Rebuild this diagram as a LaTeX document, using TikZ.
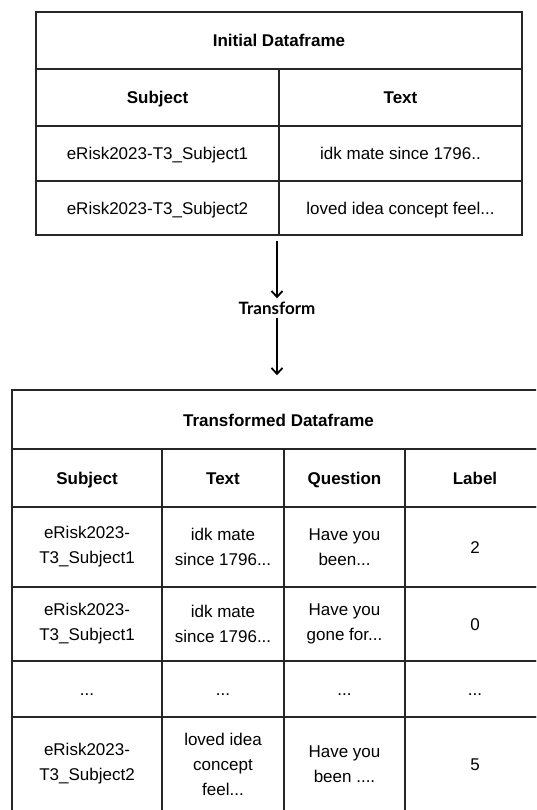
\documentclass[tikz,border=0pt]{standalone}
\usepackage{fontspec}
\setmainfont{Liberation Sans}
\newfontfamily\latofont{Lato}
\usetikzlibrary{arrows.meta}
\tikzset{
	diagram/.style={x=1pt, y=-1pt, font=\fontsize{17}{25}\selectfont,
	                >={Straight Barb[length=6pt,width=11pt,line width=1.8pt]}},
	multicell/.style={draw=black!85, line width=1.5pt, align=center, inner sep=0pt},
	cell/.style={multicell, text height=14.5pt, text depth=1.5pt},
	headcell/.style={cell, font=\fontsize{17}{25}\selectfont\bfseries},
	titlecell/.style={cell, font=\fontsize{17}{25}\selectfont\bfseries},
	flow/.style={->, line width=1.7pt, black},
	lbl/.style={font=\latofont\fontsize{17}{20}\selectfont\bfseries, inner sep=0pt},
}

\begin{document}
\begin{tikzpicture}[diagram]
\useasboundingbox (0,0) rectangle (536,810);

% ---------- initial dataframe ----------
\node[titlecell, minimum width=486pt, minimum height=57pt] (initial) at (279,40.5) {Initial Dataframe};

\node[headcell, minimum width=243pt, minimum height=57pt] (ihsubject) at (157.5,97.5) {Subject};
\node[headcell, minimum width=243pt, minimum height=57pt] (ihtext) at (400.5,97.5) {Text};

\node[cell, minimum width=243pt, minimum height=55pt] (isubj1) at (157.5,153.5) {eRisk2023-T3\_Subject1};
\node[cell, minimum width=243pt, minimum height=55pt] (itext1) at (400.5,153.5) {idk mate since 1796..};

\node[cell, minimum width=243pt, minimum height=54pt] (isubj2) at (157.5,208) {eRisk2023-T3\_Subject2};
\node[cell, minimum width=243pt, minimum height=54pt] (itext2) at (400.5,208) {loved idea concept feel...};

% ---------- transform ----------
\node[lbl, minimum height=19pt] (transform) at (277,308) {Transform};

% ---------- transformed dataframe ----------
\begin{scope}
\clip (0,0) rectangle (536,810);
\node[titlecell, minimum width=533pt, minimum height=59pt] (transformed) at (278.5,419.5) {Transformed Dataframe};

\node[headcell, minimum width=150pt, minimum height=58pt] (hsubject) at (87,478) {Subject};
\node[headcell, minimum width=122pt, minimum height=58pt] (htext) at (223,478) {Text};
\node[headcell, minimum width=121pt, minimum height=58pt] (hquestion) at (344.5,478) {Question};
\node[headcell, minimum width=140pt, minimum height=58pt] (hlabel) at (475,478) {Label};

\node[multicell, minimum width=150pt, minimum height=80pt] (subj1) at (87,547) {eRisk2023-\\T3\_Subject1};
\node[multicell, minimum width=122pt, minimum height=80pt] (text1) at (223,547) {idk mate\\since 1796...};
\node[multicell, minimum width=121pt, minimum height=80pt] (quest1) at (344.5,547) {Have you\\been...};
\node[cell, minimum width=140pt, minimum height=80pt] (label1) at (475,547) {2};

\node[multicell, minimum width=150pt, minimum height=74pt] (subj2) at (87,624) {eRisk2023-\\T3\_Subject1};
\node[multicell, minimum width=122pt, minimum height=74pt] (text2) at (223,624) {idk mate\\since 1796...};
\node[multicell, minimum width=121pt, minimum height=74pt] (quest2) at (344.5,624) {Have you\\gone for...};
\node[cell, minimum width=140pt, minimum height=74pt] (label2) at (475,624) {0};

\node[cell, minimum width=150pt, minimum height=56pt] (subjdots) at (87,689) {...};
\node[cell, minimum width=122pt, minimum height=56pt] (textdots) at (223,689) {...};
\node[cell, minimum width=121pt, minimum height=56pt] (questdots) at (344.5,689) {...};
\node[cell, minimum width=140pt, minimum height=56pt] (labeldots) at (475,689) {...};

\node[multicell, minimum width=150pt, minimum height=94pt] (subj3) at (87,764) {eRisk2023-\\T3\_Subject2};
\node[multicell, minimum width=122pt, minimum height=94pt] (text3) at (223,764) {loved idea\\concept\\feel...};
\node[multicell, minimum width=121pt, minimum height=94pt] (quest3) at (344.5,764) {Have you\\been ....};
\node[cell, minimum width=140pt, minimum height=94pt] (label3) at (475,764) {5};
\end{scope}

% ---------- arrows ----------
\draw[flow] ([yshift=-5pt]transform.north |- isubj2.south) -- (transform.north);
\draw[flow] (transform.south) -- ([yshift=14pt]transform.south |- transformed.north);

\end{tikzpicture}
\end{document}
